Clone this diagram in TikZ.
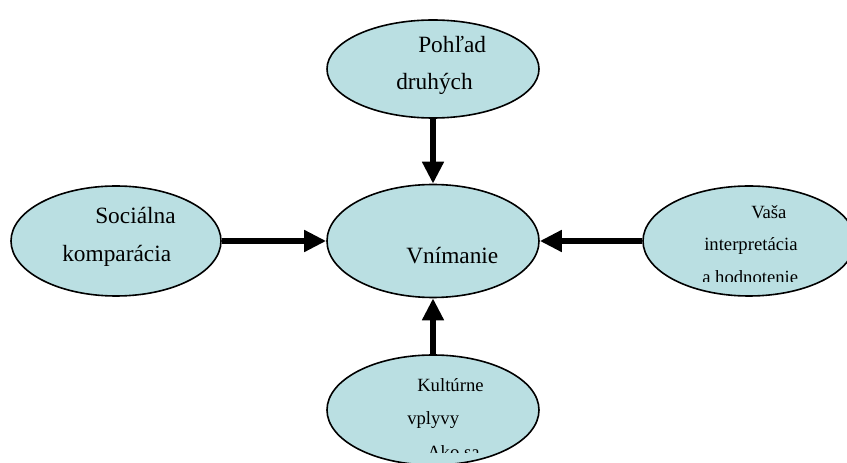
\documentclass[tikz,border=0pt]{standalone}
\usepackage{fontspec}
\setmainfont{Liberation Serif}
\usetikzlibrary{arrows.meta,shapes.geometric}

\definecolor{bubblefill}{RGB}{186,223,226}

\begin{document}
\begin{tikzpicture}[x = 0.75pt, y = -0.75pt,
	bubble/.style = {draw, ellipse, fill = bubblefill, line width = 1.2pt, inner sep = 0pt, minimum width = 159pt, minimum height = 82.5pt},
	big/.style = {anchor = base west, inner sep = 0pt, font = \fontsize{17.5}{20}\selectfont},
	small/.style = {anchor = base west, inner sep = 0pt, font = \fontsize{14}{17}\selectfont},
	arr/.style = {line width = 4.5pt, -{Triangle[length = 16.5pt, width = 15.5pt]}}]
	\clip (0,0) rectangle (847,463);
	\node[bubble, minimum height = 84.75pt] (VN) at (433,241){};
	\node[bubble, minimum height = 73.5pt] (PD) at (433,69){};
	\node[bubble, minimum width = 157.5pt] (SK) at (116,241){};
	\node[bubble] (VI) at (749,241){};
	\node[bubble] (KV) at (433,410){};
	
	% texts in the bubbles
	\node[big] (PD1) at (418,53){Pohľad};
	\node[big] (PD2) at (396,90){druhých};
	\node[big] (SK1) at (95,224){Sociálna};
	\node[big] (SK2) at (62,262){komparácia};
	\node[big] (VN1) at (406,264){Vnímanie};
	\node[small] (VI1) at (751,219){Vaša};
	\node[small] (VI2) at (704,251){interpretácia};
	\begin{scope}
		\clip (640,150) rectangle (847,282);
		\node[small] (VI3) at (702,284){a hodnotenie};
	\end{scope}
	\node[small] (KV1) at (417,392){Kultúrne};
	\node[small] (KV2) at (407,425){vplyvy};
	\begin{scope}
		\clip (320,430) rectangle (540,453);
		\node[small] (KV3) at (427,459){Ako sa};
	\end{scope}
	
	\draw[arr] (PD) -- (VN);
	\draw[arr] (SK) -- (VN);
	\draw[arr] (VI) -- (VN);
	\draw[arr] (KV) -- (VN);
\end{tikzpicture}
\end{document}
